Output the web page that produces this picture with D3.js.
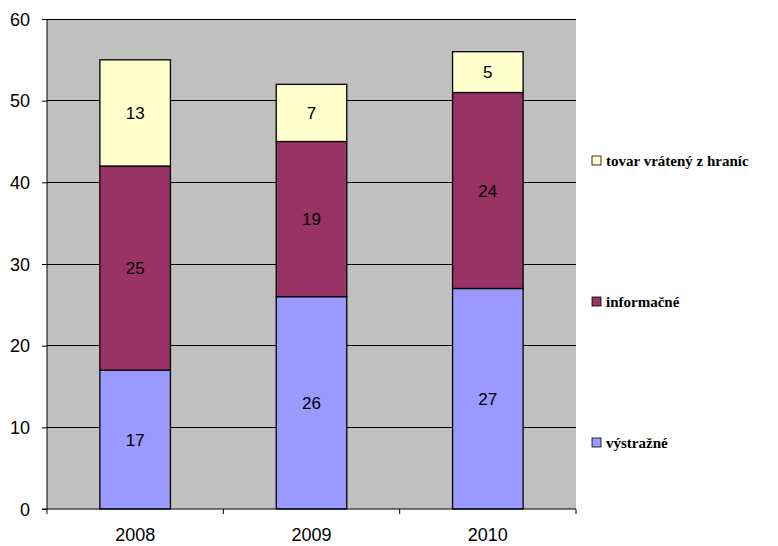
<!DOCTYPE html>
<html><head><meta charset="utf-8">
<script src="https://cdn.jsdelivr.net/npm/d3@7"></script>
<style>body{margin:0;background:#fff}</style>
</head><body>
<svg id="c" width="778" height="546"></svg>
<script>
const categories = ["2008", "2009", "2010"];
const seriesNames = ["výstražné", "informačné", "tovar vrátený z hraníc"];
const vystrazne = [17, 26, 27];
const informacne = [25, 19, 24];
const tovar = [13, 7, 5];
const colors = ["#9999FF", "#993366", "#FFFFCC"];
const yTicks = [0, 10, 20, 30, 40, 50, 60];

const SANS = "'Liberation Sans', Arial, sans-serif";
const SERIF = "'Liberation Serif', 'Times New Roman', serif";
const svg = d3.select("#c");
const L = 47, R = 576, T = 19, B = 509;
const x = d3.scaleBand().domain(categories).range([L, R]).paddingInner(0.6).paddingOuter(0.3);
const y = d3.scaleLinear().domain([0, 60]).range([B, T]);

svg.append("rect").attr("x", L).attr("y", T).attr("width", R - L).attr("height", B - T).attr("fill", "#C0C0C0");

svg.append("g").selectAll("line").data(yTicks.filter(d => d > 0)).join("line")
  .attr("x1", L).attr("x2", R).attr("y1", d => y(d)).attr("y2", d => y(d))
  .attr("stroke", "#000").attr("stroke-width", 1).attr("shape-rendering", "crispEdges");

const rows = categories.map((c, i) => ({cat: c, v: [vystrazne[i], informacne[i], tovar[i]]}));
const stack = d3.stack().keys([0, 1, 2]).value((d, k) => d.v[k]);
const stacked = stack(rows);

stacked.forEach((s, si) => {
  const g = svg.append("g");
  g.selectAll("rect").data(s).join("rect")
    .attr("x", d => x(d.data.cat)).attr("width", x.bandwidth())
    .attr("y", d => y(d[1])).attr("height", d => y(d[0]) - y(d[1]))
    .attr("fill", colors[si]).attr("stroke", "#000").attr("stroke-width", 1.3);
  g.selectAll("text").data(s).join("text")
    .attr("x", d => x(d.data.cat) + x.bandwidth() / 2)
    .attr("y", d => (y(d[0]) + y(d[1])) / 2 + 6)
    .attr("text-anchor", "middle").style("font-family", SANS)
    .attr("font-size", 17).attr("fill", "#000")
    .text(d => d.data.v[si]);
});

// axes
const ya = svg.append("g").attr("transform", `translate(${L},0)`)
  .call(d3.axisLeft(y).tickValues(yTicks).tickSize(5).tickPadding(12).tickFormat(d3.format("d")));
ya.select(".domain").attr("stroke", "#000").attr("d", `M0,${T}V${B}`);
ya.selectAll("text").style("font-family", SANS).attr("font-size", 18).attr("fill", "#000").attr("dy", "0.35em");

const xa = svg.append("g").attr("transform", `translate(0,${B})`);
xa.append("line").attr("x1", L - 5).attr("x2", R).attr("y1", 0).attr("y2", 0).attr("stroke", "#000");
const step = (R - L) / categories.length;
xa.selectAll("line.tk").data(d3.range(categories.length + 1)).join("line").attr("class", "tk")
  .attr("x1", i => L + i * step).attr("x2", i => L + i * step).attr("y1", 0).attr("y2", 5).attr("stroke", "#000");
xa.selectAll("text").data(categories).join("text")
  .attr("x", d => x(d) + x.bandwidth() / 2).attr("y", 32)
  .attr("text-anchor", "middle").style("font-family", SANS)
  .attr("font-size", 18).attr("fill", "#000").text(d => d);

// legend
const legY = [443, 302, 161];
const lg = svg.append("g");
seriesNames.forEach((n, i) => {
  lg.append("rect").attr("x", 592).attr("y", legY[i] - 5).attr("width", 9).attr("height", 9)
    .attr("fill", colors[i]).attr("stroke", "#000").attr("stroke-width", 0.8);
  lg.append("text").attr("x", 606).attr("y", legY[i] + 5)
    .style("font-family", SERIF).attr("font-weight", "bold")
    .attr("font-size", 15).attr("fill", "#000").text(n);
});
</script>
</body></html>
